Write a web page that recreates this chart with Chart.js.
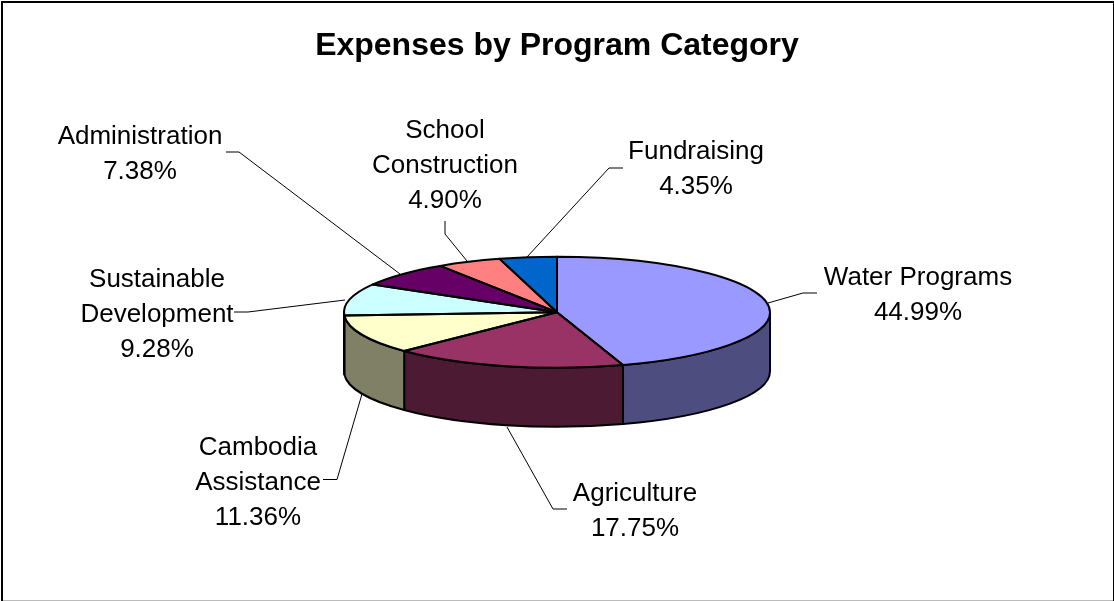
<!DOCTYPE html>
<html>
<head>
<meta charset="utf-8">
<title>Expenses by Program Category</title>
<style>
  html, body { margin: 0; padding: 0; background: #fff; }
  canvas { display: block; }
</style>
<script src="https://cdn.jsdelivr.net/npm/chart.js@4/dist/chart.umd.min.js"></script>
</head>
<body>
<canvas id="pie" width="1114" height="601"></canvas>
<script>
const categories = ['Water Programs', 'Agriculture', 'Cambodia Assistance', 'Sustainable Development', 'Administration', 'School Construction', 'Fundraising'];
const shares = [44.99, 17.75, 11.36, 9.28, 7.38, 4.90, 4.35];
const topColors = ['#9999FF', '#993366', '#FFFFCC', '#CCFFFF', '#660066', '#FF8080', '#0066CC'];
const wallColors = ['#4D4D80', '#4D1A33', '#808066', '#668080', '#330033', '#804040', '#003366'];

// label centre x, y of the first text line, whether the name wraps, leader polyline
const callouts = [
  { x: 918, y: 278, wrap: false, leader: [[768, 303], [803, 293], [817, 293]] },
  { x: 635, y: 494, wrap: false, leader: [[507, 427], [553, 509], [567, 509]] },
  { x: 258, y: 448, wrap: true, leader: [[362, 394], [337, 479.5], [323, 479.5]] },
  { x: 157, y: 280, wrap: true, leader: [[345, 300], [248, 312], [234, 312]] },
  { x: 140, y: 137, wrap: false, leader: [[400, 274], [239, 152], [226, 152]] },
  { x: 445, y: 131, wrap: true, leader: [[467, 261], [445, 234], [445, 221]] },
  { x: 696, y: 152, wrap: false, leader: [[527, 257], [609, 168], [623, 168]] },
];

const RADIUS = 213;
const SQUASH = 55.5 / 213;
const DEPTH = 59;
const LINE_H = 35;
const FONT = '"Liberation Sans", Arial, sans-serif';

function slicePath(ctx, arc) {
  const ry = arc.outerRadius * SQUASH;
  ctx.beginPath();
  ctx.moveTo(arc.x, arc.y);
  ctx.ellipse(arc.x, arc.y, arc.outerRadius, ry, 0, arc.startAngle, arc.endAngle);
  ctx.closePath();
}

// the rim is only visible along the front half of the ellipse
function wallPath(ctx, arc, from, to) {
  const ry = arc.outerRadius * SQUASH;
  ctx.beginPath();
  ctx.ellipse(arc.x, arc.y, arc.outerRadius, ry, 0, from, to);
  ctx.ellipse(arc.x, arc.y + DEPTH, arc.outerRadius, ry, 0, to, from, true);
  ctx.closePath();
}

const framePlugin = {
  id: 'frame',
  beforeDraw(chart) {
    const { ctx, width, height } = chart;
    ctx.save();
    ctx.fillStyle = '#fff';
    ctx.fillRect(0, 0, width, height);
    ctx.fillStyle = '#000';
    ctx.fillRect(1, 1, width - 1, 2);
    ctx.fillRect(1, 1, 2, height - 1);
    ctx.fillRect(width - 1, 1, 1, height - 1);
    ctx.fillStyle = '#bbb';
    ctx.fillRect(3, height - 1, width - 4, 1);
    ctx.restore();
  },
};

const tiltPlugin = {
  id: 'tilt',
  beforeDatasetsDraw(chart) {
    const { ctx } = chart;
    const arcs = chart.getDatasetMeta(0).data;

    ctx.save();
    ctx.lineWidth = 2;
    ctx.strokeStyle = '#000';
    ctx.lineJoin = 'round';
    arcs.forEach((arc, i) => {
      const from = Math.max(arc.startAngle, 0);
      const to = Math.min(arc.endAngle, Math.PI);
      if (to <= from) return;
      wallPath(ctx, arc, from, to);
      ctx.fillStyle = wallColors[i];
      ctx.fill();
      ctx.stroke();
    });
    ctx.restore();

    // squash the round pie into the top face of the disc
    const { x, y } = arcs[0];
    ctx.save();
    ctx.translate(x, y);
    ctx.scale(1, SQUASH);
    ctx.translate(-x, -y);
  },
  afterDatasetsDraw(chart) {
    const { ctx } = chart;
    ctx.restore();

    ctx.save();
    ctx.lineWidth = 2;
    ctx.strokeStyle = '#000';
    ctx.lineJoin = 'round';
    chart.getDatasetMeta(0).data.forEach(arc => {
      slicePath(ctx, arc);
      ctx.stroke();
    });
    ctx.restore();

    drawCallouts(ctx);
  },
};

function drawCallouts(ctx) {
  ctx.save();
  ctx.strokeStyle = '#000';
  ctx.lineWidth = 1;
  ctx.fillStyle = '#000';
  ctx.font = '26px ' + FONT;
  ctx.textAlign = 'center';
  ctx.textBaseline = 'middle';
  callouts.forEach((c, i) => {
    ctx.beginPath();
    c.leader.forEach(([px, py], k) => k ? ctx.lineTo(px, py) : ctx.moveTo(px, py));
    ctx.stroke();

    const name = c.wrap ? categories[i].split(' ') : [categories[i]];
    const lines = [...name, shares[i].toFixed(2) + '%'];
    lines.forEach((line, k) => ctx.fillText(line, c.x, c.y + k * LINE_H));
  });
  ctx.restore();
}

new Chart(document.getElementById('pie'), {
  type: 'pie',
  data: {
    labels: categories,
    datasets: [{
      data: shares,
      backgroundColor: topColors,
      borderWidth: 0,
      hoverOffset: 0,
      clip: false,
      radius: RADIUS,
    }],
  },
  options: {
    responsive: false,
    animation: false,
    layout: { padding: { top: 0, bottom: 41.8, left: 0, right: 0 } },
    plugins: {
      legend: { display: false },
      tooltip: { enabled: false },
      title: {
        display: true,
        text: 'Expenses by Program Category',
        color: '#000',
        font: { family: FONT, size: 32, weight: 'bold', lineHeight: 1.2 },
        padding: { top: 27, bottom: 0 },
      },
    },
  },
  plugins: [framePlugin, tiltPlugin],
});
</script>
</body>
</html>
